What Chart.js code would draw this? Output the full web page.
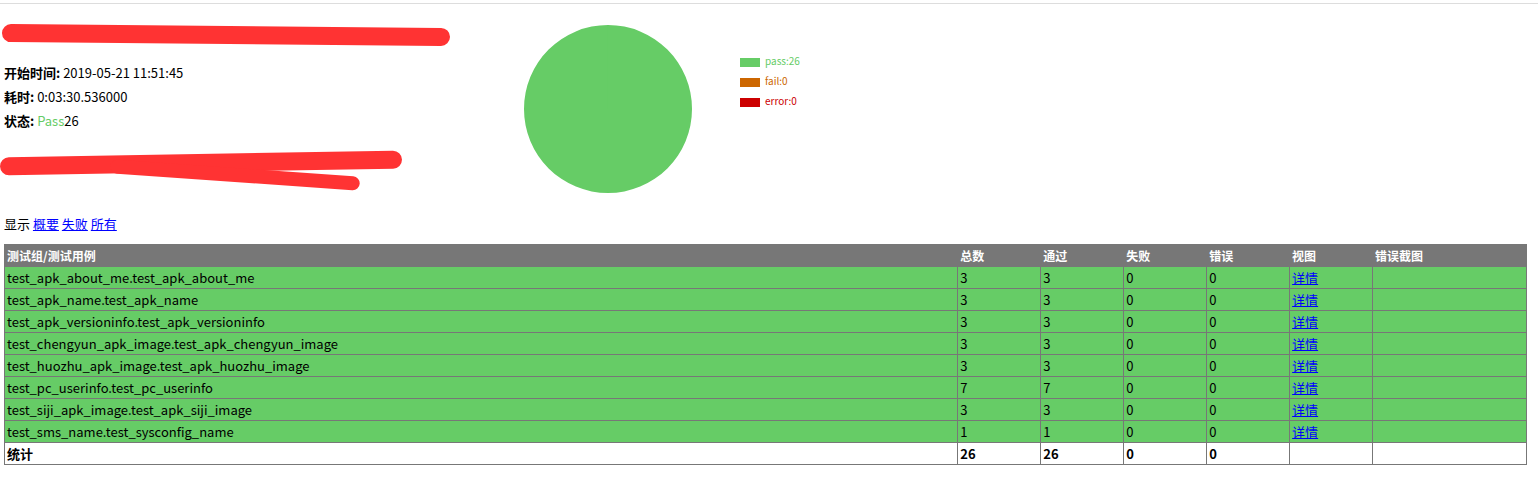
<!DOCTYPE html>
<html><head><meta charset="utf-8">
<script src="https://cdn.jsdelivr.net/npm/chart.js@4"></script>
<style>
body{margin:0;font-family:"Noto Sans CJK SC","DejaVu Sans",sans-serif;font-size:13px;color:#000;background:#fff;width:1538px;height:501px;position:relative;overflow:hidden}
.top{position:absolute;left:0;top:3px;width:1538px;border-top:1px solid #ddd}
.scrib{position:absolute;background:#f33;border-radius:12px}
.info{position:absolute;left:4px;font-size:13px}
.info b{font-weight:bold}
#pie{position:absolute;left:508px;top:17px;width:200px;height:184px}
.lg{position:absolute;left:740px;font-size:10px}
.lg span{display:inline-block;width:20px;height:9px;vertical-align:middle;margin-right:5px}
table{position:absolute;left:4px;top:244px;width:1523px;border-collapse:collapse;font-size:13px}
td,th{border:1px solid #777;height:21px;padding:0 2px;text-align:left;white-space:nowrap}
th{background:#777;color:#fff;font-weight:bold;font-size:12px}
tr.p td{background:#6c6}
a{color:#00f}
.tot td{font-weight:bold;background:#fff}
</style></head><body>
<div class="top"></div>
<div class="scrib" style="left:2px;top:26px;width:448px;height:18px;transform:rotate(0.5deg)"></div>
<div class="info" style="top:63px"><b>开始时间:</b> 2019-05-21 11:51:45</div>
<div class="info" style="top:87px"><b>耗时:</b> 0:03:30.536000</div>
<div class="info" style="top:111px"><b>状态:</b> <span style="color:#6c6">Pass</span>26</div>
<div class="scrib" style="left:0;top:154px;width:402px;height:18px;transform:rotate(-1deg)"></div>
<div class="scrib" style="left:110px;top:168px;width:250px;height:14px;transform:rotate(4deg)"></div>
<div class="info" style="top:214px">显示 <a href="#">概要</a> <a href="#">失败</a> <a href="#">所有</a></div>
<div id="pie"><canvas id="c"></canvas></div>
<div id="legend"></div>
<table id="t"></table>
<script>
const pieLabels=["pass","fail","error"];
const pieValues=[26,0,0];
const pieColors=["#6c6","#c60","#c00"];
const headers=["测试组/测试用例","总数","通过","失败","错误","视图","错误截图"];
const cases=["test_apk_about_me.test_apk_about_me","test_apk_name.test_apk_name","test_apk_versioninfo.test_apk_versioninfo","test_chengyun_apk_image.test_apk_chengyun_image","test_huozhu_apk_image.test_apk_huozhu_image","test_pc_userinfo.test_pc_userinfo","test_siji_apk_image.test_apk_siji_image","test_sms_name.test_sysconfig_name"];
const totals=[3,3,3,3,3,7,3,1];
const passes=[3,3,3,3,3,7,3,1];
const fails=[0,0,0,0,0,0,0,0];
const errors=[0,0,0,0,0,0,0,0];
const colW=[954,83,83,83,83,83,154];
let h='<tr>'+headers.map((x,i)=>`<th style="width:${colW[i]-5}px">${x}</th>`).join('')+'</tr>';
cases.forEach((c,i)=>{h+=`<tr class="p"><td>${c}</td><td>${totals[i]}</td><td>${passes[i]}</td><td>${fails[i]}</td><td>${errors[i]}</td><td><a href="#">详情</a></td><td></td></tr>`});
const s=a=>a.reduce((x,y)=>x+y,0);
h+=`<tr class="tot"><td>统计</td><td>${s(totals)}</td><td>${s(passes)}</td><td>${s(fails)}</td><td>${s(errors)}</td><td></td><td></td></tr>`;
document.getElementById('t').innerHTML=h;
document.getElementById('legend').innerHTML=pieLabels.map((l,i)=>`<div class="lg" style="top:${53+i*20}px;color:${pieColors[i]}"><span style="background:${pieColors[i]}"></span>${l}:${pieValues[i]}</div>`).join('');
new Chart(document.getElementById('c'),{type:'pie',data:{labels:pieLabels,datasets:[{data:pieValues,backgroundColor:pieColors,borderWidth:0}]},
options:{responsive:true,maintainAspectRatio:false,animation:false,layout:{padding:8},plugins:{legend:{display:false},tooltip:{enabled:false}}}});
</script>
</body></html>
